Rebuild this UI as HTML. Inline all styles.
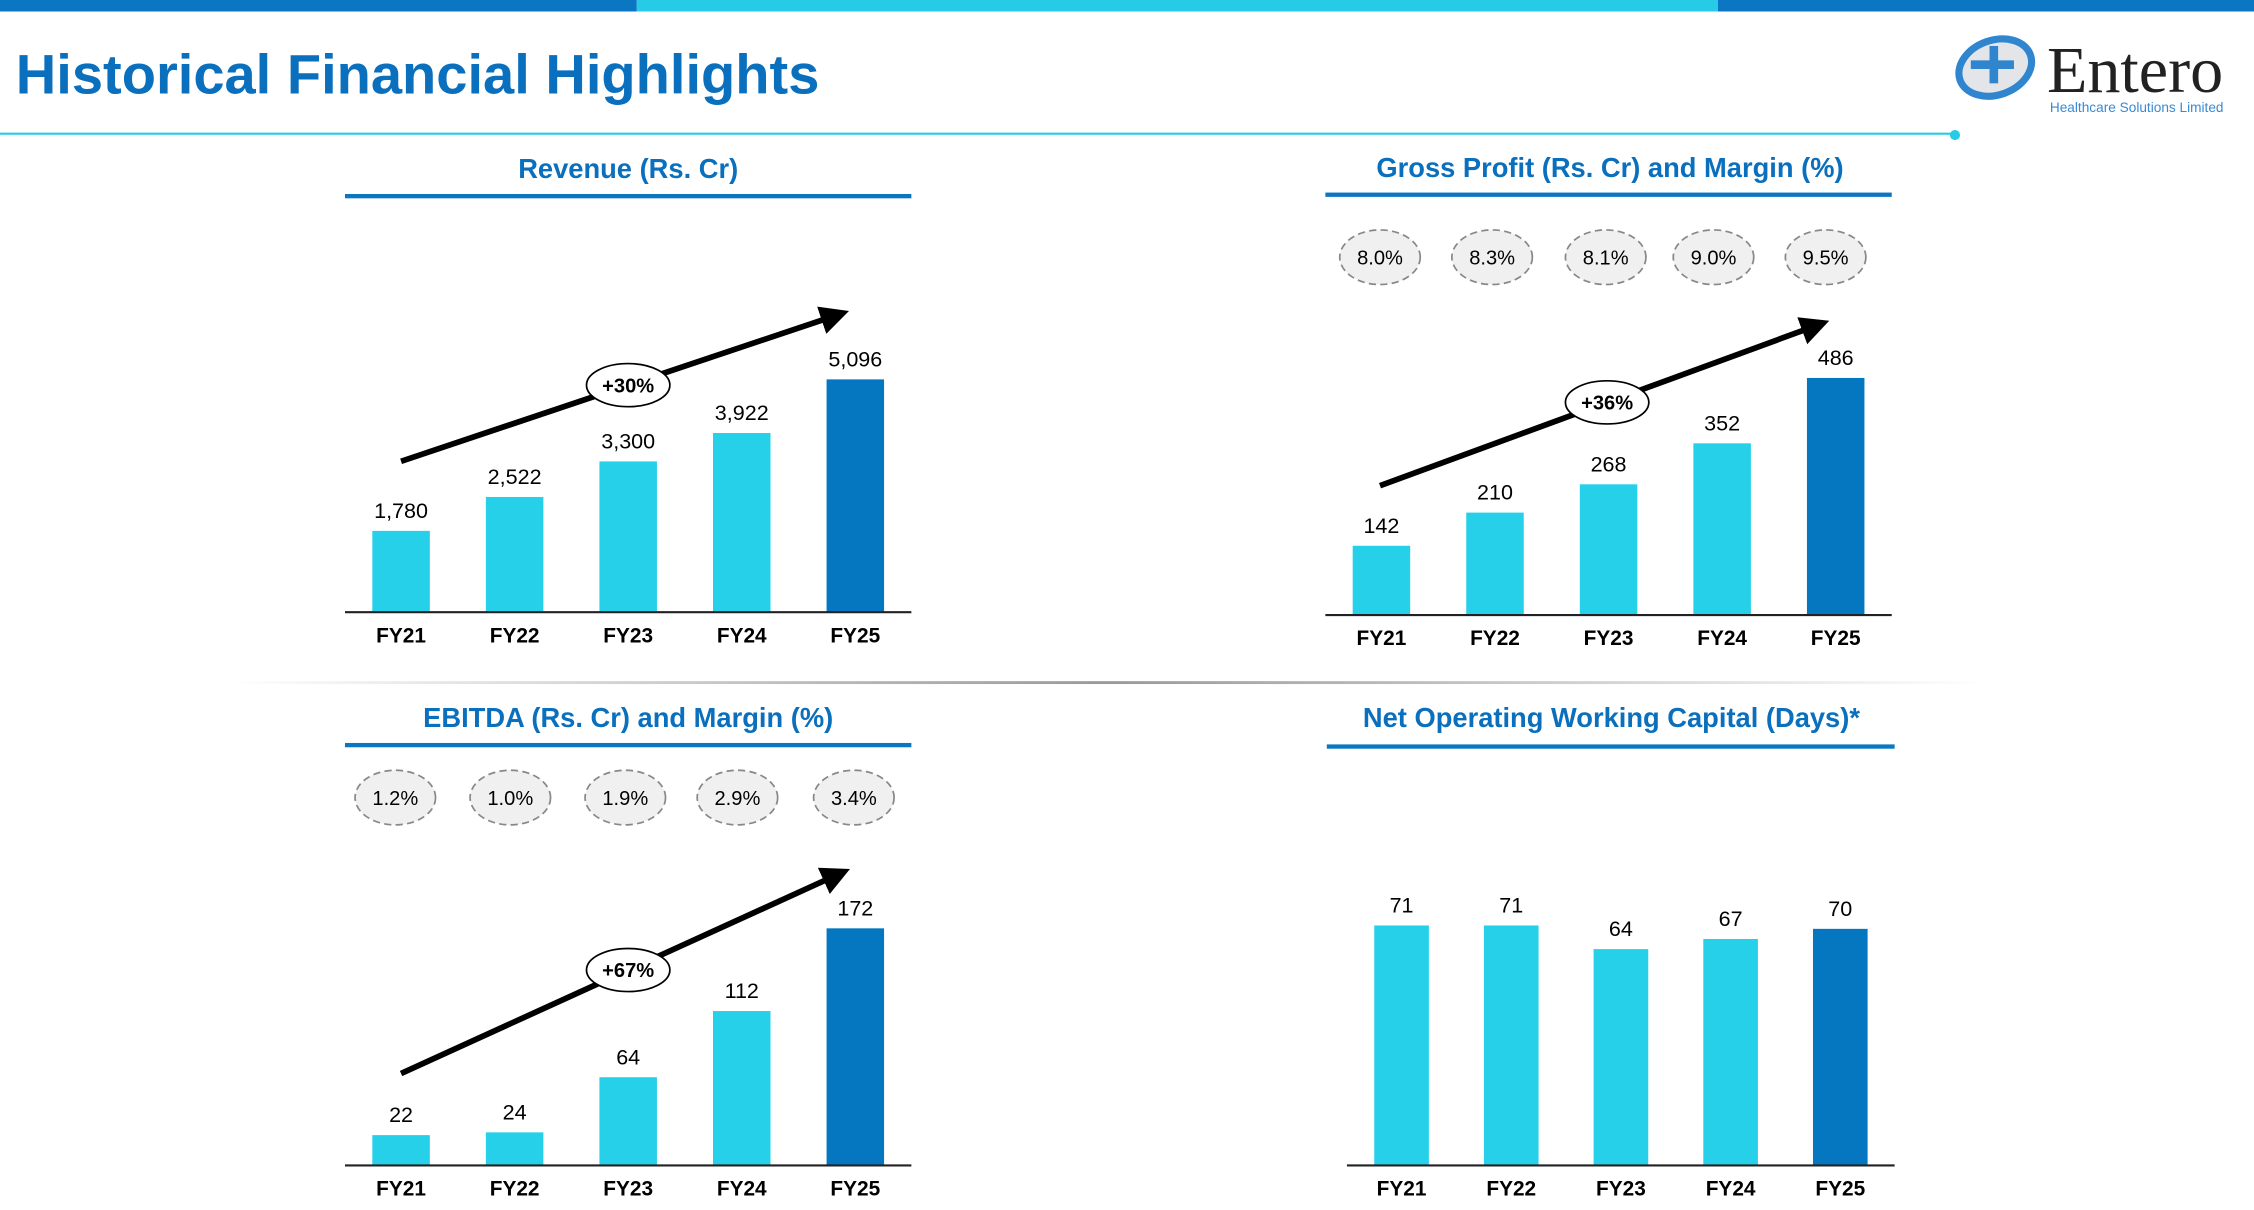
<!DOCTYPE html>
<html><head><meta charset="utf-8"><style>
html,body{margin:0;padding:0;background:#fff;width:2254px;height:1210px;overflow:hidden}
svg{display:block}
text{font-family:"Liberation Sans",sans-serif}
</style></head><body>
<svg id="s" width="2254" height="1210" viewBox="0 0 1568 842" preserveAspectRatio="none">
<defs>
<linearGradient id="dg" x1="0" x2="1"><stop offset="0" stop-color="#fff"/><stop offset="0.5" stop-color="#999"/><stop offset="1" stop-color="#fff"/></linearGradient>
<marker id="ah" markerWidth="6" markerHeight="6" refX="3" refY="3" orient="auto" markerUnits="strokeWidth"><path d="M0,0.5 L5,3 L0,5.5 Z" fill="#000"/></marker>
</defs>
<rect x="0" y="0" width="443" height="8" fill="#0b77c2"/>
<rect x="443" y="0" width="752" height="8" fill="#26cbe8"/>
<rect x="1195" y="0" width="373" height="8" fill="#0b77c2"/>
<text x="11" y="65" font-size="39" font-weight="bold" fill="#0a6fbd">Historical Financial Highlights</text>
<line x1="0" y1="93" x2="1360" y2="93" stroke="#26cbe8" stroke-width="1.5"/>
<circle cx="1360" cy="94" r="3.5" fill="#26cbe8"/>
<g>
<ellipse cx="1388" cy="47" rx="26" ry="19" fill="#e3e5e8" stroke="#2f86cf" stroke-width="5" transform="rotate(-20 1388 47)"/>
<rect x="1384" y="32" width="6" height="26" fill="#2f86cf"/>
<rect x="1371" y="42" width="30" height="6" fill="#2f86cf"/>
<text x="1424" y="64" style="font-family:'Liberation Serif',serif" font-size="46" fill="#222">Entero</text>
<text x="1426" y="78" font-size="9.5" fill="#3a8ad3">Healthcare Solutions Limited</text>
</g>
<rect x="160" y="474" width="1220" height="2" fill="url(#dg)"/>
<g id="charts"></g>
</svg>
<script>
const years = ["FY21","FY22","FY23","FY24","FY25"];
const revenue = [1780,2522,3300,3922,5096];
const revenueLabels = ["1,780","2,522","3,300","3,922","5,096"];
const grossProfit = [142,210,268,352,486];
const grossMargin = ["8.0%","8.3%","8.1%","9.0%","9.5%"];
const ebitda = [22,24,64,112,172];
const ebitdaMargin = ["1.2%","1.0%","1.9%","2.9%","3.4%"];
const nowcDays = [71,71,64,67,70];
const NS="http://www.w3.org/2000/svg";
const root=document.getElementById('charts');
function mk(tag,attrs,parent){const e=document.createElementNS(NS,tag);for(const k in attrs)e.setAttribute(k,attrs[k]);(parent||root).appendChild(e);return e;}
function chart(o){
  const g=mk('g',{});
  
  
  const t=mk('text',{x:o.tc,y:o.ty,'font-size':19,'font-weight':'bold',fill:'#0a6fbd','text-anchor':'middle'},g);
  t.textContent=o.title;
  
  
  const ul=mk('rect',{x:o.ux1,y:o.uy,width:o.ux2-o.ux1,height:3,fill:'#0b77c2'},g);
  
  
  const n=o.values.length;
  const yScale=v=>o.base - v*o.k;
  const xScale=i=>o.x0 + i*o.step;
  o.values.forEach((v,i)=>{
    const cx=xScale(i), top=yScale(v);
    const b=mk('rect',{x:cx-o.bw/2,y:top,width:o.bw,height:o.base-top,fill:i==n-1?'#0577c0':'#26d0e8'},g);
    
    
    const vl=mk('text',{x:cx,y:top-9,'font-size':15,fill:'#000','text-anchor':'middle'},g);
    vl.textContent=o.labels?o.labels[i]:String(v);
    
    
    const xl=mk('text',{x:cx,y:o.base+21,'font-size':14.5,'font-weight':'bold',fill:'#000','text-anchor':'middle'},g);
    xl.textContent=years[i];
    
    
  });
  const ax=mk('line',{x1:o.ax1,y1:o.base,x2:o.ax2,y2:o.base,stroke:'#222','stroke-width':1.5},g);
  
  
  if(o.margins){o.margins.forEach((m,i)=>{
    const cx=o.mx[i];
    const e=mk('ellipse',{cx:cx,cy:o.my,rx:28,ry:19,fill:'#f0f0f0',stroke:'#888','stroke-width':1.2,'stroke-dasharray':'5 3'},g);
    
    
    const mt=mk('text',{x:cx,y:o.my+5,'font-size':14,fill:'#000','text-anchor':'middle'},g);
    mt.textContent=m;
    
    
  });}
  if(o.arrow){
    const a=o.arrow;
    const l=mk('line',{x1:a[0],y1:a[1],x2:a[2],y2:a[3],stroke:'#000','stroke-width':4,'marker-end':'url(#ah)'},g);
    
    
    const e=mk('ellipse',{cx:o.cagr[0],cy:o.cagr[1],rx:29,ry:15,fill:'#fff',stroke:'#000','stroke-width':1.2},g);
    
    
    const ct=mk('text',{x:o.cagr[0],y:o.cagr[1]+5,'font-size':14,'font-weight':'bold',fill:'#000','text-anchor':'middle'},g);
    ct.textContent=o.cagr[2];
    
    
  }
}
chart({name:'revenue-chart',title:'Revenue (Rs. Cr)',tc:437,ty:124,ux1:240,ux2:634,uy:135,values:revenue,labels:revenueLabels,base:426,k:162/5096,x0:279,step:79,bw:40,ax1:240,ax2:634,arrow:[279,321,583,219],cagr:[437,268,'+30%']});
chart({name:'gross-profit-chart',title:'Gross Profit (Rs. Cr) and Margin (%)',tc:1120,ty:123,ux1:922,ux2:1316,uy:134,values:grossProfit,base:428,k:165/486,x0:961,step:79,bw:40,ax1:922,ax2:1316,margins:grossMargin,mx:[960,1038,1117,1192,1270],my:179,arrow:[960,338,1265,226],cagr:[1118,280,'+36%']});
chart({name:'ebitda-chart',title:'EBITDA (Rs. Cr) and Margin (%)',tc:437,ty:506,ux1:240,ux2:634,uy:517,values:ebitda,base:811,k:165/172,x0:279,step:79,bw:40,ax1:240,ax2:634,margins:ebitdaMargin,mx:[275,355,435,513,594],my:555,arrow:[279,747,584,608],cagr:[437,675,'+67%']});
chart({name:'nowc-chart',title:'Net Operating Working Capital (Days)*',tc:1121,ty:506,ux1:923,ux2:1318,uy:518,values:nowcDays,base:811,k:167/71,x0:975,step:76.3,bw:38,ax1:937,ax2:1318});
</script>
</body></html>
